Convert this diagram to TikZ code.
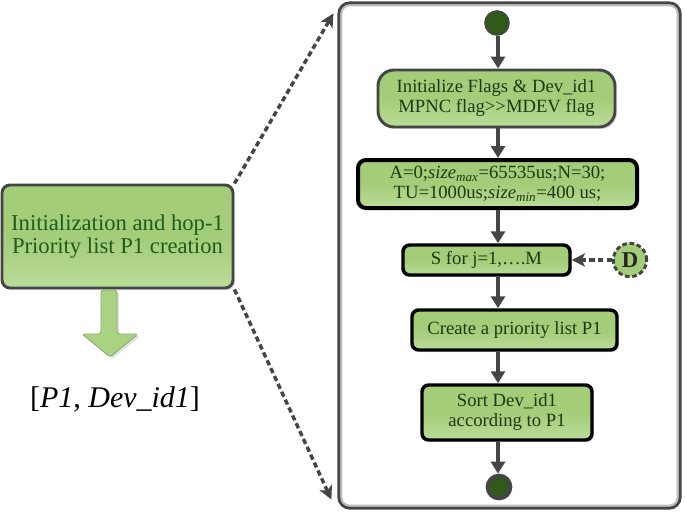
\documentclass[tikz,border=0pt]{standalone}
\usepackage{fontspec}
\setmainfont{Liberation Serif}
\usetikzlibrary{arrows.meta,shadows,calc}
\definecolor{boxgreen}{HTML}{A3CD79}
\definecolor{boxgreenl}{HTML}{BADC98}
\definecolor{txtgreen}{HTML}{1C3A12}
\definecolor{ltxt}{HTML}{1F5C1B}
\definecolor{edge}{HTML}{454545}
\definecolor{dotgreen}{HTML}{2F5A1A}
\definecolor{arrowgreen}{HTML}{A9D383}
\begin{document}
\begin{tikzpicture}[x=0.75pt,y=-0.75pt,
  shade/.style={top color=boxgreen, bottom color=boxgreenl, middle color=boxgreen},
  sh/.style={drop shadow={opacity=0.25, shadow xshift=1.6pt, shadow yshift=-1.6pt}},
  flowbox/.style={draw=black, line width=2.6pt, rounded corners=5pt, shade, sh,
    text=txtgreen, font=\fontsize{14}{15}\selectfont, align=center, inner sep=1pt},
  arr/.style={draw=edge, line width=2.8pt, -{Triangle[length=9pt,width=10.5pt]}},
  dashconn/.style={draw=edge, line width=2.6pt, dash pattern=on 4pt off 2.5pt,
    -{Stealth[length=10pt,width=10pt,inset=2.5pt]}},
  dot/.style={circle, fill=dotgreen, draw=edge, inner sep=0pt}
]
\useasboundingbox (0,0) rectangle (685,511);

% panel
\node (panel) [draw=edge, line width=2.4pt, rounded corners=8pt,
  minimum width=255.75pt, minimum height=378.75pt, inner sep=0pt] at (509.5,255.5) {};
\draw[black!25, line width=1.6pt, rounded corners=6pt]
  ($(panel.north west)+(4,4)$) rectangle ($(panel.south east)+(-4,-4)$);

% left box
\node (left) [draw=edge, line width=2.2pt, rounded corners=6pt, shade, sh,
  minimum width=173.25pt, minimum height=77.25pt, text=ltxt,
  font=\fontsize{17}{17.5}\selectfont, align=center, inner sep=1pt] at (117.5,236.5)
  {Initialization and hop-1\\Priority list P1 creation};

% fat arrow
\draw[draw=arrowgreen!80!black, line width=0.6pt, fill=arrowgreen, rounded corners=2pt, sh]
  (101,290) -- (117,290) -- (117,334) -- (138,334) -- (110,357) -- (82,334) -- (101,334) -- cycle;

\node (out) at (115,399) {\fontsize{22.5}{26}\selectfont[\textit{P1}, \textit{Dev\_id1}]};

% flow
\coordinate (col) at (498,0);
\node (start) [dot, minimum size=18pt, line width=1.2pt] at (497,23) {};
\node (b1) [flowbox, draw=edge, line width=2.2pt, rounded corners=12pt,
  minimum width=177.75pt, minimum height=42.75pt] at (496.5,98.5)
  {Initialize Flags \& Dev\_id1\\MPNC flag>{}>MDEV flag};
\node (b2) [flowbox, line width=3pt, rounded corners=6pt,
  minimum width=209.25pt, minimum height=36pt] at (497.5,184)
  {A=0;\textit{size}\textsubscript{\textit{max}}=65535us;N=30;\\TU=1000us;\textit{size}\textsubscript{\textit{min}}=400 us;};
\node (b3) [flowbox, minimum width=125.25pt, minimum height=22.5pt] at (486.5,260)
  {S for j=1,….M};
\node (b4) [flowbox, minimum width=153.75pt, minimum height=30pt] at (514.5,330)
  {Create a priority list P1};
\node (b5) [flowbox, minimum width=127.5pt, minimum height=41.25pt] at (507,412.5)
  {Sort Dev\_id1\\according to P1};
\node (end) [dot, minimum size=17pt, line width=3pt] at (499,487) {};
\node (D) [circle, fill=boxgreen, draw=edge, line width=2.2pt, dash pattern=on 3.5pt off 2pt,
  minimum size=25pt, inner sep=0pt, text=black!85,
  font=\fontsize{17}{18}\selectfont\bfseries] at (630,260) {D};

\draw[arr] (start.south -| col) -- (b1.north -| col);
\draw[arr] (b1.south -| col) -- (b2.north -| col);
\draw[arr] (b2.south -| col) -- (b3.north -| col);
\draw[arr] (b3.south -| col) -- (b4.north -| col);
\draw[arr] (b4.south -| col) -- (b5.north -| col);
\draw[arr] (b5.south -| col) -- (end.north -| col);
\draw[dashconn] (D.west) -- (b3.east);

% zoom connectors
\coordinate (ptop) at ($(panel.north west)+(-4,12)$);
\coordinate (pbot) at ($(panel.south west)+(-6,-10)$);
\draw[dashconn] (left.north east) -- (ptop);
\draw[dashconn] (left.south east) -- (pbot);
\end{tikzpicture}
\end{document}
